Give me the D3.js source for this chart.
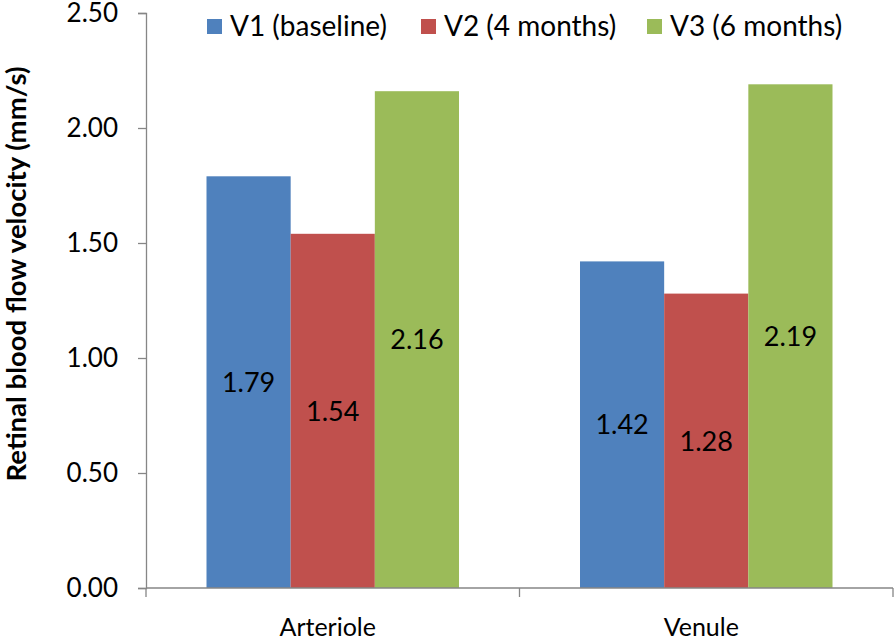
<!DOCTYPE html>
<html>
<head>
<meta charset="utf-8">
<script src="https://cdn.jsdelivr.net/npm/d3@7"></script>
<style>
  html, body { margin: 0; padding: 0; background: #fff; }
  svg text { font-family: Lato, "Open Sans", sans-serif; fill: #000; }
</style>
</head>
<body>
<svg id="chart" width="896" height="640"></svg>
<script>
const categories = ["Arteriole", "Venule"];
const seriesNames = ["V1 (baseline)", "V2 (4 months)", "V3 (6 months)"];
const v1 = [1.79, 1.42];
const v2 = [1.54, 1.28];
const v3 = [2.16, 2.19];
const seriesValues = [v1, v2, v3];
const colors = ["#4F81BD", "#C0504D", "#9BBB59"];
const yTicks = [0, 0.5, 1.0, 1.5, 2.0, 2.5];
const yTitle = "Retinal blood flow velocity (mm/s)";

(function () {
const svg = d3.select("#chart");
const mLeft = 146, mRight = 893, mTop = 13, mBottom = 588;
const axisColor = "#868686";

const x0 = d3.scaleBand().domain(categories).range([mLeft, mRight]).paddingInner(0).paddingOuter(0);
const groupPad = 60.5;
const x1 = d3.scaleBand().domain(seriesNames).range([groupPad, x0.bandwidth() - groupPad]).padding(0);
const y = d3.scaleLinear().domain([0, 2.5]).range([mBottom, mTop]);

// y axis
const yAxis = d3.axisLeft(y).tickValues(yTicks).tickFormat(d3.format(".2f")).tickSize(8).tickPadding(20);
const yg = svg.append("g").attr("transform", `translate(${mLeft},0)`).call(yAxis);
yg.select(".domain").attr("stroke", axisColor).attr("stroke-width", 1.3);
yg.selectAll(".tick line").attr("stroke", axisColor).attr("stroke-width", 1.3);
yg.selectAll(".tick text").attr("font-size", 26).attr("font-family", "Lato, sans-serif").attr("fill", "#000");

// bars
const data = [];
categories.forEach((c, i) => seriesNames.forEach((s, j) => data.push({c, s, j, v: seriesValues[j][i]})));

const g = svg.append("g");
g.selectAll("rect").data(data).enter().append("rect")
  .attr("x", d => x0(d.c) + x1(d.s))
  .attr("width", x1.bandwidth())
  .attr("y", d => y(d.v))
  .attr("height", d => y(0) - y(d.v))
  .attr("fill", d => colors[d.j]);

g.selectAll("text.lbl").data(data).enter().append("text")
  .attr("class", "lbl")
  .attr("x", d => x0(d.c) + x1(d.s) + x1.bandwidth() / 2)
  .attr("y", d => (y(d.v) + y(0)) / 2)
  .attr("dy", "0.36em")
  .attr("text-anchor", "middle")
  .attr("font-size", 27)
  .text(d => d3.format(".2f")(d.v));

// x axis
const xg = svg.append("g").attr("transform", `translate(0,${mBottom})`);
xg.append("line").attr("x1", mLeft).attr("x2", mRight).attr("y1", 0).attr("y2", 0)
  .attr("stroke", axisColor).attr("stroke-width", 1.3);
const boundaries = [mLeft, ...categories.map(c => x0(c) + x0.bandwidth())];
xg.selectAll("line.tk").data(boundaries).enter().append("line").attr("class", "tk")
  .attr("x1", d => d).attr("x2", d => d).attr("y1", 0).attr("y2", 9)
  .attr("stroke", axisColor).attr("stroke-width", 1.3);
xg.selectAll("text.cat").data(categories).enter().append("text").attr("class", "cat")
  .attr("x", d => x0(d) + x0.bandwidth() / 2 - 5)
  .attr("y", 48)
  .attr("text-anchor", "middle")
  .attr("font-size", 25)
  .text(d => d);

// y title
svg.append("text")
  .attr("transform", `translate(26,274) rotate(-90)`)
  .attr("text-anchor", "middle")
  .attr("font-size", 27.5)
  .attr("font-weight", "bold")
  .text(yTitle);

// legend
const legendX = [207, 421, 647];
const lg = svg.append("g");
seriesNames.forEach((s, j) => {
  lg.append("rect").attr("x", legendX[j]).attr("y", 19).attr("width", 15).attr("height", 15).attr("fill", colors[j]);
  lg.append("text").attr("x", legendX[j] + 23).attr("y", 36).attr("font-size", 28).text(s);
});
})();
</script>
</body>
</html>
